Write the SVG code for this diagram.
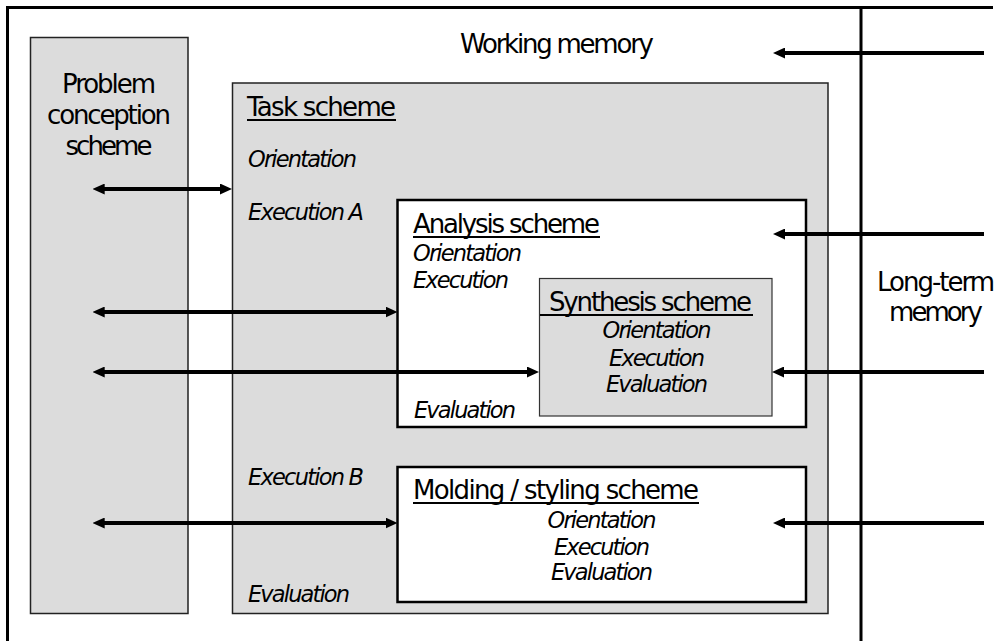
<svg xmlns="http://www.w3.org/2000/svg" width="1004" height="641" viewBox="0 0 1004 641">
  <defs>
    <style>
      .t{font-family:"DejaVu Sans","Liberation Sans",sans-serif;font-size:26px;fill:#000}
      .i{font-family:"DejaVu Sans","Liberation Sans",sans-serif;font-size:22.5px;font-style:italic;fill:#000}
      .c{text-anchor:middle}
      .gray{fill:#dcdcdc;stroke:#222;stroke-width:1.5}
      .gray-thin{fill:#dcdcdc;stroke:#333;stroke-width:1.2}
      .white{fill:#fff;stroke:#000;stroke-width:2.5}
      .frame{stroke:#000;stroke-width:3;fill:none}
      .ul{stroke:#000;stroke-width:2}
      .arrow{stroke:#000;stroke-width:4;fill:none}
      .one{marker-end:url(#head)}
      .two{marker-start:url(#head);marker-end:url(#head)}
    </style>
    <marker id="head" markerUnits="userSpaceOnUse" markerWidth="12" markerHeight="11" viewBox="0 0 12 11" refX="4" refY="5.5" orient="auto-start-reverse">
      <path d="M0,0 L12,5.5 L0,11 z" fill="#000"/>
    </marker>
  </defs>

  <rect width="1004" height="641" fill="#fff"/>

  <!-- outer frame and the working / long-term memory divider -->
  <g id="frame">
    <path class="frame" d="M7.5,641 V7.5 H993"/>
    <path class="frame" d="M861,7.5 V641"/>
    <text class="t" x="460" y="53" textLength="194">Working memory</text>
    <text class="t c" x="936" y="291" textLength="118">Long-term</text>
    <text class="t c" x="936" y="321" textLength="94">memory</text>
  </g>

  <g id="problem-conception">
    <rect class="gray" x="30.5" y="37.5" width="157.5" height="576"/>
    <text class="t c" x="109" y="93" textLength="94">Problem</text>
    <text class="t c" x="109" y="124" textLength="124">conception</text>
    <text class="t c" x="109" y="155" textLength="87">scheme</text>
  </g>

  <g id="task-scheme">
    <rect class="gray" x="232.5" y="83" width="595.5" height="530.5"/>
    <text class="t" x="247" y="116" textLength="149">Task scheme</text>
    <line class="ul" x1="247" y1="120" x2="396" y2="120"/>
    <text class="i" x="248" y="167" textLength="109">Orientation</text>
    <text class="i" x="248" y="220" textLength="116">Execution A</text>
    <text class="i" x="248" y="485" textLength="116">Execution B</text>
    <text class="i" x="248" y="602" textLength="102">Evaluation</text>
  </g>

  <g id="analysis-scheme">
    <rect class="white" x="397.5" y="200" width="408.5" height="227"/>
    <text class="t" x="413" y="233" textLength="187">Analysis scheme</text>
    <line class="ul" x1="413" y1="237" x2="600" y2="237"/>
    <text class="i" x="413" y="261" textLength="109">Orientation</text>
    <text class="i" x="413" y="288" textLength="96">Execution</text>
    <text class="i" x="414" y="418" textLength="102">Evaluation</text>
  </g>

  <g id="synthesis-scheme">
    <rect class="gray-thin" x="539.5" y="278.5" width="232.5" height="137.5"/>
    <text class="t" x="549" y="311" textLength="203">Synthesis scheme</text>
    <line class="ul" x1="540" y1="315" x2="753" y2="315"/>
    <text class="i c" x="657" y="338" textLength="109">Orientation</text>
    <text class="i c" x="657" y="366" textLength="96">Execution</text>
    <text class="i c" x="657" y="392" textLength="102">Evaluation</text>
  </g>

  <g id="molding-styling-scheme">
    <rect class="white" x="397.5" y="467" width="408.5" height="135"/>
    <text class="t" x="413" y="499" textLength="286">Molding / styling scheme</text>
    <line class="ul" x1="413" y1="503" x2="699" y2="503"/>
    <text class="i c" x="602" y="528" textLength="109">Orientation</text>
    <text class="i c" x="602" y="555" textLength="96">Execution</text>
    <text class="i c" x="602" y="580" textLength="102">Evaluation</text>
  </g>

  <!-- connectors -->
  <g id="connectors">
    <path class="arrow one" d="M984,53 H781"/>
    <path class="arrow one" d="M984,234 H781"/>
    <path class="arrow one" d="M984,372 H780"/>
    <path class="arrow one" d="M984,523 H781"/>
    <path class="arrow two" d="M100.7,189 H224"/>
    <path class="arrow two" d="M100.7,312 H389.5"/>
    <path class="arrow two" d="M100.7,372 H531"/>
    <path class="arrow two" d="M100.7,523 H389.5"/>
  </g>
</svg>
